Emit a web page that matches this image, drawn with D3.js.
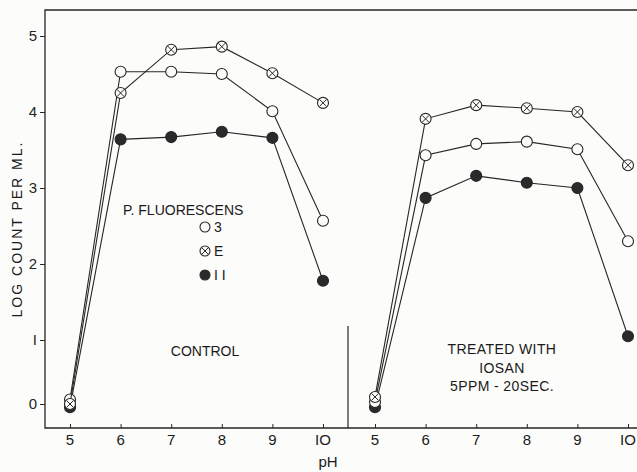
<!DOCTYPE html>
<html>
<head>
<meta charset="utf-8">
<script src="https://cdn.jsdelivr.net/npm/d3@7"></script>
<style>
  body { margin: 0; background: #fcfcfa; }
  svg { display: block; }
  text { font-family: "Liberation Sans", "DejaVu Sans", sans-serif; fill: #1a1a1a; }
</style>
</head>
<body>
<div id="canva"></div>
<script>
// pH values (same for both panels)
const phValues = [5, 6, 7, 8, 9, 10];

// log count per ml, control panel
const control3 = [0.07, 4.53, 4.53, 4.50, 4.01, 2.57];
const controlE = [0.00, 4.25, 4.82, 4.86, 4.51, 4.12];
const control11 = [-0.05, 3.64, 3.67, 3.74, 3.66, 1.78];

// log count per ml, treated with iosan
const treated3 = [0.03, 3.43, 3.58, 3.61, 3.51, 2.30];
const treatedE = [0.11, 3.91, 4.09, 4.05, 4.00, 3.30];
const treated11 = [-0.05, 2.87, 3.16, 3.07, 3.00, 1.05];

const yTicks = [0, 1, 2, 3, 4, 5];
const xTicks = [5, 6, 7, 8, 9, 10];

const legendItems = [
    { label: '3', kind: 'open' },
    { label: 'E', kind: 'cross' },
    { label: 'I I', kind: 'filled' }
];

const width = 637, height = 472;
const frameLeft = 45, frameTop = 10, frameBottom = 428;
const ink = '#262626';

const svg = d3.select('#canva').append('svg')
    .attr('width', width)
    .attr('height', height);

// the printed axis is hand drawn, so the ticks are not evenly spaced
const y = d3.scaleLinear()
    .domain(yTicks)
    .range([404, 340, 264, 188, 112, 36]);

const xControl = d3.scaleLinear().domain([5, 10]).range([70, 323]);
const xTreated = d3.scaleLinear().domain([5, 10]).range([375, 628]);

// frame: left, top and bottom lines
svg.append('path')
    .attr('d', `M${width},${frameTop}H${frameLeft}V${frameBottom}H${width}`)
    .attr('fill', 'none')
    .attr('stroke', ink)
    .attr('stroke-width', 1.3);

// divider between the panels
svg.append('line')
    .attr('x1', 348).attr('x2', 348)
    .attr('y1', 326).attr('y2', frameBottom)
    .attr('stroke', ink)
    .attr('stroke-width', 1.2);

// y axis ticks and labels
const yAxis = d3.axisLeft(y).tickValues(yTicks).tickSize(5).tickPadding(3)
    .tickFormat(d => d === 1 ? 'I' : d);
svg.append('g')
    .attr('transform', `translate(${frameLeft},0)`)
    .call(yAxis)
    .call(g => g.select('.domain').remove())
    .call(g => g.selectAll('line').attr('stroke', ink))
    .call(g => g.selectAll('text').attr('font-size', 15).style('fill', ink)
        .style('font-family', '"Liberation Sans", sans-serif'));

// x axes, ticks pointing inward
[xControl, xTreated].forEach(x => {
    svg.append('g')
        .attr('transform', `translate(0,${frameBottom})`)
        .call(d3.axisTop(x).tickValues(xTicks).tickSize(4).tickFormat(''))
        .call(g => g.select('.domain').remove())
        .call(g => g.selectAll('line').attr('stroke', ink));

    svg.append('g').selectAll('text')
        .data(xTicks)
        .enter()
        .append('text')
        .attr('x', d => x(d))
        .attr('y', frameBottom + 17)
        .attr('text-anchor', 'middle')
        .attr('font-size', 15)
        .text(d => d === 10 ? 'IO' : d);
});

svg.append('text')
    .attr('x', 328).attr('y', 467)
    .attr('text-anchor', 'middle')
    .attr('font-size', 15)
    .text('pH');

svg.append('text')
    .attr('transform', 'translate(22,229) rotate(-90)')
    .attr('text-anchor', 'middle')
    .attr('font-size', 14)
    .attr('letter-spacing', 2)
    .text('LOG  COUNT  PER  ML.');

const line = d3.line();

function drawMarker(g, kind, cx, cy, r) {
    g.append('circle')
        .attr('cx', cx).attr('cy', cy).attr('r', r)
        .attr('fill', kind === 'filled' ? '#2a2a2a' : '#fcfcfa')
        .attr('stroke', ink)
        .attr('stroke-width', 1.1);
    if (kind === 'cross') {
        const d = r * 0.62;
        g.append('path')
            .attr('d', `M${cx - d},${cy - d}L${cx + d},${cy + d}M${cx - d},${cy + d}L${cx + d},${cy - d}`)
            .attr('stroke', ink)
            .attr('stroke-width', 1);
    }
}

function drawSeries(x, values, kind) {
    const g = svg.append('g');
    const pts = phValues.map((p, i) => [x(p), y(values[i])]);
    g.append('path')
        .attr('d', line(pts))
        .attr('fill', 'none')
        .attr('stroke', ink)
        .attr('stroke-width', 1.1);
    pts.forEach(p => drawMarker(g, kind, p[0], p[1], 5.5));
}

drawSeries(xControl, control11, 'filled');
drawSeries(xControl, control3, 'open');
drawSeries(xControl, controlE, 'cross');
drawSeries(xTreated, treated11, 'filled');
drawSeries(xTreated, treated3, 'open');
drawSeries(xTreated, treatedE, 'cross');

// legend
svg.append('text')
    .attr('x', 123).attr('y', 215)
    .attr('font-size', 14)
    .text('P. FLUORESCENS');

legendItems.forEach((item, i) => {
    const cy = 227 + i * 24;
    drawMarker(svg, item.kind, 205, cy, 5);
    svg.append('text')
        .attr('x', 214).attr('y', cy + 5)
        .attr('font-size', 14)
        .text(item.label);
});

// panel notes
svg.append('text')
    .attr('x', 205).attr('y', 356)
    .attr('text-anchor', 'middle')
    .attr('font-size', 14)
    .text('CONTROL');

const notes = ['TREATED  WITH', 'IOSAN', '5PPM - 20SEC.'];
notes.forEach((t, i) => {
    svg.append('text')
        .attr('x', 502).attr('y', 354 + i * 18.5)
        .attr('text-anchor', 'middle')
        .attr('font-size', 14)
        .attr('letter-spacing', 0.4)
        .text(t);
});
</script>
</body>
</html>
